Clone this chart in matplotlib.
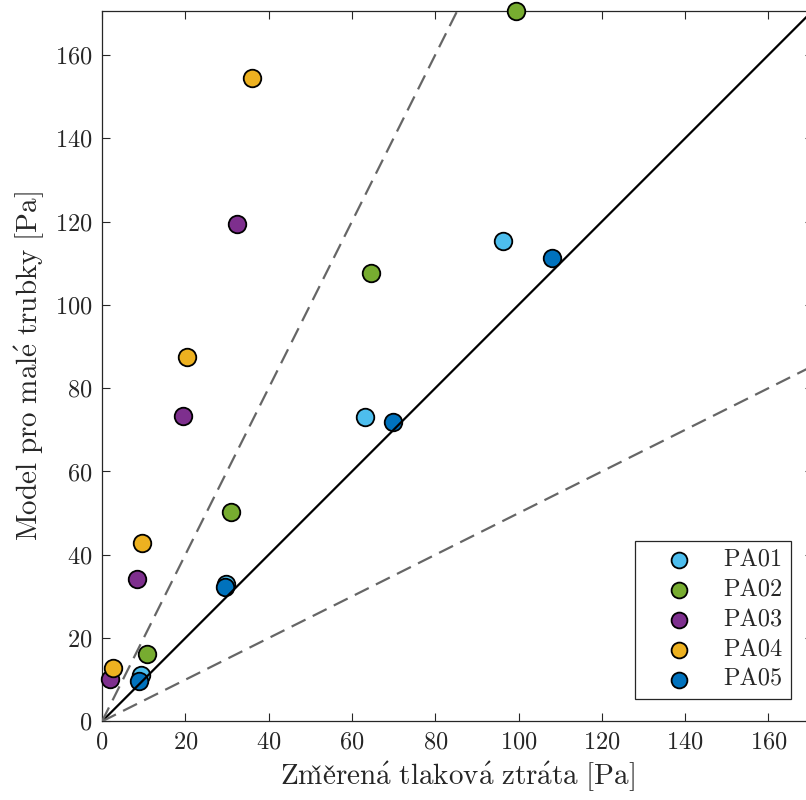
import numpy as np
import matplotlib as mpl
mpl.use('Agg')
from matplotlib import pyplot as plt

# measured pressure loss [Pa] vs. model for small tubes [Pa]
series = ['PA01', 'PA02', 'PA03', 'PA04', 'PA05']
colors = ['#4DBEEE', '#77AC30', '#7E2F8E', '#EDB120', '#0072BD']

pa01_x = [9.3, 29.8, 63.1, 96.2]
pa01_y = [11.1, 33.0, 73.0, 115.4]
pa02_x = [10.8, 31.0, 64.6, 99.4]
pa02_y = [16.2, 50.3, 107.6, 170.6]
pa03_x = [1.9, 8.4, 19.4, 32.4]
pa03_y = [10.2, 34.2, 73.3, 119.4]
pa04_x = [2.6, 9.6, 20.4, 36.0]
pa04_y = [12.8, 42.8, 87.5, 154.4]
pa05_x = [8.9, 29.6, 69.8, 108.0]
pa05_y = [9.6, 32.2, 71.8, 111.2]

xs = [pa01_x, pa02_x, pa03_x, pa04_x, pa05_x]
ys = [pa01_y, pa02_y, pa03_y, pa04_y, pa05_y]

lim = 170.6
ref_x = [0.0, lim]
ratio_lines = [1.0, 2.0, 0.5]

mpl.rcParams['mathtext.fontset'] = 'cm'
mpl.rcParams['font.family'] = ['cmr10', 'DejaVu Serif']
mpl.rcParams['axes.unicode_minus'] = False
mpl.rcParams['axes.formatter.use_mathtext'] = True

dark = '#262626'

f = plt.figure(figsize = (8.06, 8.0), dpi = 100)
ax1 = f.add_axes([102 / 806, 1 - 721.4 / 800, 710.6 / 806, 710.6 / 800])

######################################################################################
# reference lines
for r in ratio_lines:
    ry = [v * r for v in ref_x]
    if r == 1.0:
        ax1.plot(ref_x, ry, color = 'black', lw = 1.6, zorder = 5)
    else:
        ax1.plot(ref_x, ry, color = '#666666', lw = 1.6, ls = (0, (7, 3.6)), zorder = 5)

# data
for name, c, x, y in zip(series, colors, xs, ys):
    ax1.scatter(x, y, s = 160, color = c, edgecolors = 'black', linewidths = 1.3,
                label = name, clip_on = False, zorder = 4)

ax1.set_xlim(0, lim)
ax1.set_ylim(0, lim)
ax1.set_xticks(np.arange(0, 161, 20))
ax1.set_yticks(np.arange(0, 161, 20))

ax1.tick_params('both', direction = 'in', length = 6, width = 0.8, labelsize = 17.5,
                colors = dark, top = True, right = True, pad = 7)
for s in ax1.spines.values():
    s.set_color(dark)
    s.set_linewidth(0.9)

ax1.set_xlabel(r'$\mathrm{Zm\check{e}\check{r}en\acute{a}\ tlakov\acute{a}\ ztr\acute{a}ta\ [Pa]}$',
               fontsize = 21, color = dark, labelpad = 4)
ax1.set_ylabel(r'$\mathrm{Model\ pro\ mal\acute{e}\ trubky\ [Pa]}$',
               fontsize = 21, color = dark, labelpad = 6)

leg = ax1.legend(loc = 'lower right', bbox_to_anchor = (0.9696, 0.0315),
                 fontsize = 17.5, frameon = True, fancybox = False, framealpha = 1.0,
                 edgecolor = dark, borderpad = 0.33, labelspacing = 0.32,
                 handlelength = 3.0, handletextpad = 0.33, borderaxespad = 0.0,
                 markerscale = 0.9)
leg.get_frame().set_linewidth(0.9)
for t in leg.get_texts():
    t.set_color(dark)

f.savefig('out.png', dpi = 100)
plt.close()
